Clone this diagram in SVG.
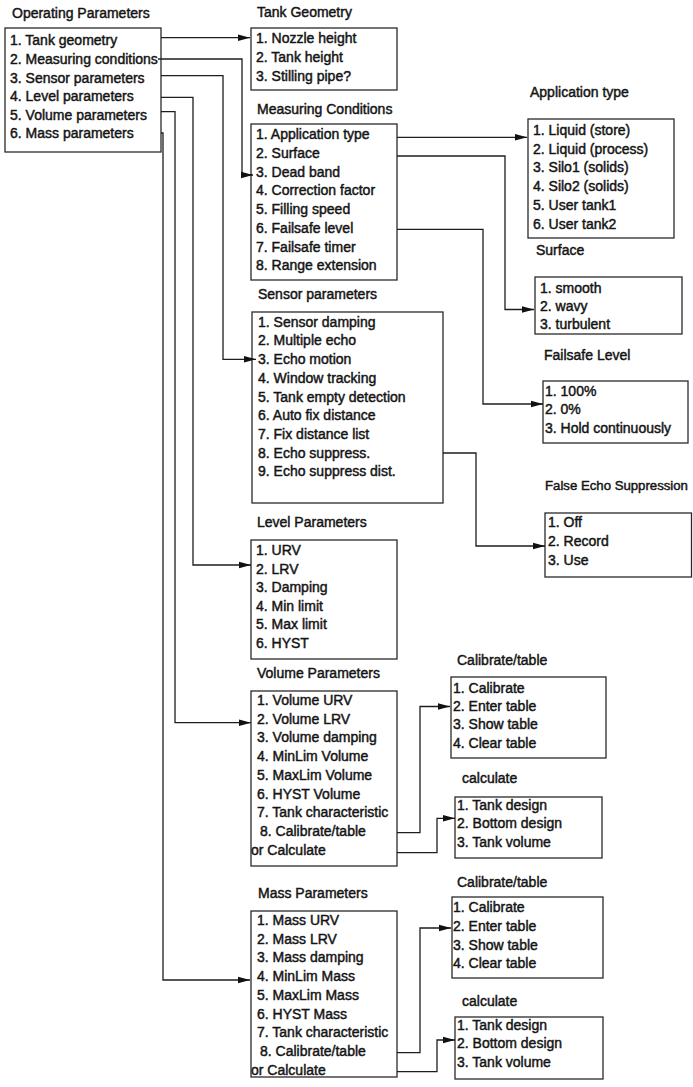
<svg xmlns="http://www.w3.org/2000/svg" width="693" height="1087" viewBox="0 0 693 1087">
<style>
text{font-family:"Liberation Sans",Arial,sans-serif;font-size:14px;fill:#141414;stroke:#141414;stroke-width:0.45}
.box{fill:none;stroke:#2a2a2a;stroke-width:1.3}
.con{fill:none;stroke:#1e1e1e;stroke-width:1.3}
</style>
<defs>
<marker id="ah" markerUnits="userSpaceOnUse" markerWidth="12" markerHeight="8" refX="12" refY="4" orient="auto">
<path d="M0,0.8 L12,4 L0,7.2 z" fill="#111"/>
</marker>
</defs>
<rect width="693" height="1087" fill="#fff"/>

<g id="operating">
<text x="12" y="18">Operating Parameters</text>
<rect class="box" x="5" y="28" width="156" height="124"/>
<text x="10" y="45">1. Tank geometry</text>
<text x="10" y="64">2. Measuring conditions</text>
<text x="10" y="82.5">3. Sensor parameters</text>
<text x="10" y="101">4. Level parameters</text>
<text x="10" y="119.5">5. Volume parameters</text>
<text x="10" y="138">6. Mass parameters</text>
</g>

<g id="tank-geometry">
<text x="257" y="17">Tank Geometry</text>
<rect class="box" x="251" y="28" width="146" height="62"/>
<text x="256" y="43">1. Nozzle height</text>
<text x="256" y="62">2. Tank height</text>
<text x="256" y="81">3. Stilling pipe?</text>
</g>

<g id="measuring-conditions">
<text x="257" y="114">Measuring Conditions</text>
<rect class="box" x="251" y="124" width="146" height="156"/>
<text x="256" y="139.3">1. Application type</text>
<text x="256" y="158">2. Surface</text>
<text x="256" y="176.7">3. Dead band</text>
<text x="256" y="195.4">4. Correction factor</text>
<text x="256" y="214.1">5. Filling speed</text>
<text x="256" y="232.8">6. Failsafe level</text>
<text x="256" y="251.5">7. Failsafe timer</text>
<text x="256" y="270.2">8. Range extension</text>
</g>

<g id="application-type">
<text x="530" y="97">Application type</text>
<rect class="box" x="528" y="119" width="146" height="119"/>
<text x="533" y="135">1. Liquid (store)</text>
<text x="533" y="153.7">2. Liquid (process)</text>
<text x="533" y="172.4">3. Silo1 (solids)</text>
<text x="533" y="191.1">4. Silo2 (solids)</text>
<text x="533" y="209.8">5. User tank1</text>
<text x="533" y="228.5">6. User tank2</text>
</g>

<g id="surface">
<text x="536" y="255">Surface</text>
<rect class="box" x="535" y="277" width="147" height="57"/>
<text x="540" y="292.5">1. smooth</text>
<text x="540" y="310.5">2. wavy</text>
<text x="540" y="328.5">3. turbulent</text>
</g>

<g id="failsafe-level">
<text x="544" y="360">Failsafe Level</text>
<rect class="box" x="543" y="381" width="145" height="62"/>
<text x="545" y="395.7">1. 100%</text>
<text x="545" y="414.3">2. 0%</text>
<text x="545" y="432.7">3. Hold continuously</text>
</g>

<g id="sensor-parameters">
<text x="258" y="299">Sensor parameters</text>
<rect class="box" x="252" y="312" width="191" height="191"/>
<text x="258" y="326.7">1. Sensor damping</text>
<text x="258" y="345.4">2. Multiple echo</text>
<text x="258" y="364.1">3. Echo motion</text>
<text x="258" y="382.8">4. Window tracking</text>
<text x="258" y="401.5">5. Tank empty detection</text>
<text x="258" y="420.2">6. Auto fix distance</text>
<text x="258" y="438.9">7. Fix distance list</text>
<text x="258" y="457.6">8. Echo suppress.</text>
<text x="258" y="476.3">9. Echo suppress dist.</text>
</g>

<g id="false-echo">
<text x="545" y="490" style="font-size:13.2px">False Echo Suppression</text>
<rect class="box" x="545" y="513" width="146.5" height="64"/>
<text x="548" y="527.3">1. Off</text>
<text x="548" y="546">2. Record</text>
<text x="548" y="565">3. Use</text>
</g>

<g id="level-parameters">
<text x="257" y="527">Level Parameters</text>
<rect class="box" x="251" y="540" width="146" height="119"/>
<text x="256" y="555">1. URV</text>
<text x="256" y="573.6">2. LRV</text>
<text x="256" y="592.2">3. Damping</text>
<text x="256" y="610.8">4. Min limit</text>
<text x="256" y="629.4">5. Max limit</text>
<text x="256" y="648">6. HYST</text>
</g>

<g id="volume-parameters">
<text x="257" y="678">Volume Parameters</text>
<rect class="box" x="251" y="691" width="146" height="175"/>
<text x="257" y="705">1. Volume URV</text>
<text x="257" y="723.7">2. Volume LRV</text>
<text x="257" y="742.4">3. Volume damping</text>
<text x="257" y="761.1">4. MinLim Volume</text>
<text x="257" y="779.8">5. MaxLim Volume</text>
<text x="257" y="798.5">6. HYST Volume</text>
<text x="257" y="817.2">7. Tank characteristic</text>
<text x="260" y="835.9">8. Calibrate/table</text>
<text x="251" y="854.6">or Calculate</text>
</g>

<g id="calibrate-table-1">
<text x="457" y="665">Calibrate/table</text>
<rect class="box" x="451" y="677" width="155" height="81"/>
<text x="453" y="692.7">1. Calibrate</text>
<text x="453" y="711">2. Enter table</text>
<text x="453" y="729.3">3. Show table</text>
<text x="453" y="747.6">4. Clear table</text>
</g>

<g id="calculate-1">
<text x="462" y="783">calculate</text>
<rect class="box" x="455" y="797" width="147" height="61"/>
<text x="457" y="810">1. Tank design</text>
<text x="457" y="828.3">2. Bottom design</text>
<text x="457" y="846.7">3. Tank volume</text>
</g>

<g id="mass-parameters">
<text x="258" y="898">Mass Parameters</text>
<rect class="box" x="251" y="911" width="146" height="166"/>
<text x="257" y="925">1. Mass URV</text>
<text x="257" y="943.7">2. Mass LRV</text>
<text x="257" y="962.4">3. Mass damping</text>
<text x="257" y="981.1">4. MinLim Mass</text>
<text x="257" y="999.8">5. MaxLim Mass</text>
<text x="257" y="1018.5">6. HYST Mass</text>
<text x="257" y="1037.2">7. Tank characteristic</text>
<text x="260" y="1055.9">8. Calibrate/table</text>
<text x="251" y="1074.6">or Calculate</text>
</g>

<g id="calibrate-table-2">
<text x="457" y="887">Calibrate/table</text>
<rect class="box" x="452" y="897" width="151" height="81"/>
<text x="453" y="911.7">1. Calibrate</text>
<text x="453" y="931">2. Enter table</text>
<text x="453" y="949.5">3. Show table</text>
<text x="453" y="968">4. Clear table</text>
</g>

<g id="calculate-2">
<text x="462" y="1006">calculate</text>
<rect class="box" x="455" y="1017" width="148" height="62"/>
<text x="457" y="1030">1. Tank design</text>
<text x="457" y="1048.3">2. Bottom design</text>
<text x="457" y="1066.7">3. Tank volume</text>
</g>

<g id="connectors">
<path class="con" marker-end="url(#ah)" d="M161,37.7 H250"/>
<path class="con" marker-end="url(#ah)" d="M158,59 H242 V175 H253"/>
<path class="con" marker-end="url(#ah)" d="M161,75.7 H223 V359.3 H256"/>
<path class="con" marker-end="url(#ah)" d="M161,97.3 H193 V565 H251"/>
<path class="con" marker-end="url(#ah)" d="M161,111.7 H175 V722.7 H251"/>
<path class="con" marker-end="url(#ah)" d="M161,133 H163 V980 H250"/>
<path class="con" marker-end="url(#ah)" d="M397,137.3 H527"/>
<path class="con" marker-end="url(#ah)" d="M397,156 H505 V309.5 H534"/>
<path class="con" marker-end="url(#ah)" d="M397,229.3 H483 V404 H543"/>
<path class="con" marker-end="url(#ah)" d="M443,453 H476 V546 H545"/>
<path class="con" marker-end="url(#ah)" d="M397,832.7 H420 V706.5 H450"/>
<path class="con" marker-end="url(#ah)" d="M397,852.7 H437 V818.3 H455"/>
<path class="con" marker-end="url(#ah)" d="M397,1052.7 H420 V928 H451"/>
<path class="con" marker-end="url(#ah)" d="M397,1071.7 H437 V1040 H455"/>
</g>
</svg>
